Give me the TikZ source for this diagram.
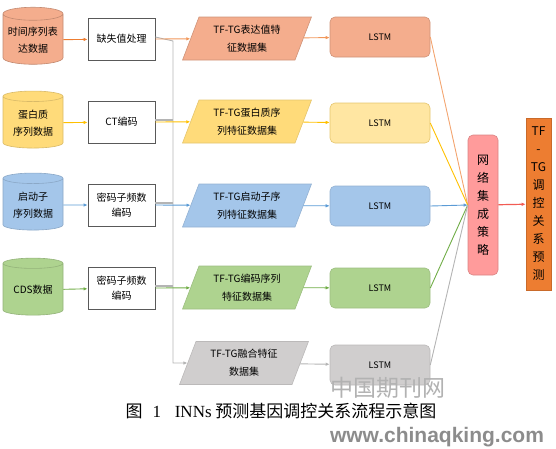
\documentclass[tikz,border=0pt]{standalone}
\usepackage{fontspec}
\setmainfont{Noto Sans CJK SC}
\newfontfamily\latserif{Liberation Serif}
\newfontfamily\latsans{Liberation Sans}
\usetikzlibrary{arrows.meta,positioning,shapes.geometric}
\definecolor{chengA}{HTML}{F4AD8D}
\definecolor{chengL}{HTML}{ED7D31}
\definecolor{huangA}{HTML}{FFDB7A}
\definecolor{huangL}{HTML}{FFC000}
\definecolor{lanA}{HTML}{A4C6EA}
\definecolor{lanL}{HTML}{5B9BD5}
\definecolor{lvA}{HTML}{AED38F}
\definecolor{lvL}{HTML}{70AD47}
\definecolor{huiA}{HTML}{D0CECE}
\definecolor{huiL}{HTML}{B4B4B4}
\definecolor{fenA}{HTML}{FF9B9B}
\definecolor{hongL}{HTML}{F25C54}
\tikzset{
  shuju/.style={cylinder,shape border rotate=90,aspect=0.25,draw,line width=0.6pt,
                minimum width=60pt,minimum height=57pt,align=center,inner sep=1pt,
                font=\fontsize{10}{17}\selectfont},
  chuli/.style={draw=black!65,fill=white,line width=0.8pt,minimum width=67pt,minimum height=42pt,
                align=center,inner sep=1pt,font=\fontsize{10}{15}\selectfont},
  tezheng/.style={trapezium,trapezium left angle=68,trapezium right angle=112,trapezium stretches=true,
                  draw,line width=0.6pt,minimum width=130pt,minimum height=43pt,align=center,inner sep=1pt,
                  font=\fontsize{10}{18}\selectfont},
  wangluo/.style={draw,line width=0.6pt,rounded corners=5pt,minimum width=100pt,minimum height=40pt,
                  font=\fontsize{9}{11}\selectfont},
  shuzi/.style={draw,line width=0.6pt,align=center,inner sep=1pt,font=\fontsize{12}{18}\selectfont},
  jiantou/.style={-{Latex[length=4pt,width=3.5pt]},line width=0.9pt},
  xian/.style={line width=0.9pt},
}
\begin{document}
\begin{tikzpicture}[x=1pt,y=-1pt]
  \useasboundingbox (0,0) rectangle (556,448);
  % data sources
  \node[shuju,fill=chengA,draw=chengA!80!black] (d1) at (33,40) {时间序列表\\达数据};
  \node[shuju,fill=huangA,draw=huangA!85!black] (d2) at (33,123) {蛋白质\\序列数据};
  \node[shuju,fill=lanA,draw=lanA!85!black] (d3) at (33,205) {启动子\\序列数据};
  \node[shuju,fill=lvA,draw=lvA!85!black] (d4) at (33,290) {CDS数据};
  % preprocessing
  \node[chuli] (b1) at (121.5,39) {缺失值处理};
  \node[chuli] (b2) at (121.5,122) {CT编码};
  \node[chuli] (b3) at (121.5,205) {密码子频数\\编码};
  \node[chuli] (b4) at (121.5,288) {密码子频数\\编码};
  % feature sets
  \node[tezheng,fill=chengA,draw=chengA!85!black] (t1) at (247,38.5) {TF-TG表达值特\\征数据集};
  \node[tezheng,fill=huangA,draw=huangA!90!black] (t2) at (247,121.5) {TF-TG蛋白质序\\列特征数据集};
  \node[tezheng,fill=lanA,draw=lanA!90!black] (t3) at (247,205.5) {TF-TG启动子序\\列特征数据集};
  \node[tezheng,fill=lvA,draw=lvA!90!black] (t4) at (247,287.5) {TF-TG编码序列\\特征数据集};
  \node[tezheng,fill=huiA,draw=huiA!90!black] (t5) at (244,363) {TF-TG融合特征\\数据集};
  % LSTM
  \node[wangluo,fill=chengA,draw=chengA!85!black] (l1) at (380,37) {LSTM};
  \node[wangluo,fill=huangA!70!white,draw=huangA!90!black] (l2) at (380,123) {LSTM};
  \node[wangluo,fill=lanA,draw=lanA!90!black] (l3) at (380,206) {LSTM};
  \node[wangluo,fill=lvA,draw=lvA!90!black] (l4) at (380,288) {LSTM};
  \node[wangluo,fill=huiA,draw=huiA!90!black] (l5) at (380,365) {LSTM};
  % ensemble and result
  \node[shuzi,fill=fenA,draw=fenA!85!black,rounded corners=5pt,minimum width=30pt,minimum height=140pt]
    (net) at (483,205) {网\\络\\集\\成\\策\\略};
  \node[shuzi,fill=chengL,draw=chengL!85!black,minimum width=25pt,minimum height=172pt]
    (res) at (538.5,204) {TF\\-\\TG\\调\\控\\关\\系\\预\\测};
  \coordinate (bus) at (173,41);
  % connectors
  \draw[jiantou,chengL] (d1) -- (b1);
  \draw[jiantou,huangL] (d2) -- (b2);
  \draw[jiantou,lanL] (d3) -- (b3);
  \draw[jiantou,lvL] (d4) -- (b4);
  \draw[jiantou,huiL] ([yshift=2pt]b1.east) -- (bus) |- (t5.west);
  \draw[line width=2pt,huiL] ([yshift=2pt]b2.east) -- ([yshift=2pt]b2.east -| bus);
  \draw[line width=2pt,huiL] ([yshift=2pt]b3.east) -- ([yshift=2pt]b3.east -| bus);
  \draw[line width=2pt,huiL] ([yshift=2pt]b4.east) -- ([yshift=2pt]b4.east -| bus);
  \draw[jiantou,chengL!80!white] (b1.east) -- (t1);
  \draw[jiantou,huangL] (b2.east) -- (t2);
  \draw[jiantou,lanL] (b3.east) -- (t3);
  \draw[jiantou,lvL] (b4.east) -- (t4);
  \draw[jiantou,chengL!80!white] (t1) -- (l1);
  \draw[jiantou,huangL] (t2) -- (l2);
  \draw[jiantou,lanL] (t3) -- (l3);
  \draw[jiantou,lvL] (t4) -- (l4);
  \draw[jiantou,huiL] (t5) -- (l5);
  \draw[xian,chengL!70!white] (l1.east) -- (net.west);
  \draw[xian,huangL] (l2.east) -- (net.west);
  \draw[jiantou,lanL] (l3.east) -- (net.west);
  \draw[xian,lvL] (l4.east) -- (net.west);
  \draw[xian,huiL] (l5.east) -- (net.west);
  \draw[jiantou,hongL,line width=1.2pt] (net) -- (res);
  % caption and watermark
  \node[text=black!30,font=\fontsize{23}{26}\selectfont] (wm1) at (388,388) {中国期刊网};
  \node[font=\fontsize{17}{19}\selectfont] (cap) at (281,411)
    {图\hspace{0.6em}{\latserif 1}\hspace{0.8em}{\latserif INNs} 预测基因调控关系流程示意图};
  \node[text=black!45,font=\latsans\bfseries\fontsize{21}{24}\selectfont] (wm2) at (437,437) {www.chinaqking.com};
\end{tikzpicture}
\end{document}
